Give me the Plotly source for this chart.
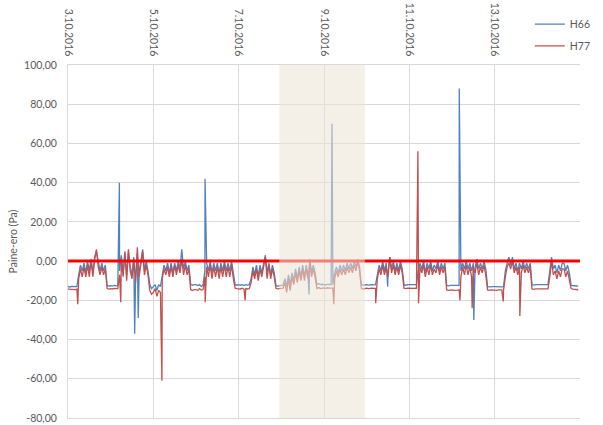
import pandas as pd
import plotly.graph_objects as go

# ---------------- data ----------------
start_time = "2016-10-03 00:00"

# hourly values per day (00:00 ... 23:00)
h66_days = [
    # 3.10
    [-13, -13.2, -12.9, -13, -13.1, -13, -7, -2, -5, -1, -6, 0, -5, 1, -6, 2, 5, -1, -5, -1, -5, -2, -12.5, -12.8],
    # 4.10
    [-12.5, -12.7, -12.4, -12.6, -12.5, -5, 3, -6, 4, -7, 5, -3, -7, 2, -9, 4, -6, 1, 6, -5, 0, -5, -12, -14],
    # 5.10
    [-13, -12, -15, -12, -13, -7, -2, -5, -1, -6, -1, -6, -1, -5, 0, -4, 6, -4, 0, -5, -2, -12, -12.3, -12],
    # 6.10
    [-12, -12.5, -12, -13, -12, -5, -1, -5, 0, -6, -1, -5, -1, -6, -1, -5, 0, -5, -1, -5, 0, -6, -12, -12.3],
    # 7.10
    [-12, -12.3, -12, -12.5, -12, -12.2, -12, -9, -3, -7, -2, -8, -2, -6, -1, 3, -6, -1, -7, -2, -6, -12.5, -12.7, -12.5],
    # 8.10
    [-12.5, -12.3, -9, -13, -7, -12, -6, -10, -4, -9, -3, -8, -2, -8, -2, -7, 1, -6, -2, -6, -12, -11.5, -12, -11.8],
    # 9.10
    [-12, -12.2, -11.8, -12, -12.1, -12, -6, -3, -6, -2, -5, -2, -5, -1, -4, -1, -4, 0, -3, 1, -3, -12, -12.3, -12],
    # 10.10
    [-12, -12.2, -11.9, -12, -12.1, -12, -7, -2, -5, 0, -5, -1, -6, 2, -4, 0, -5, -1, -5, 0, -4, -12, -12.3, -12],
    # 11.10
    [-12, -12.2, -12, -12.1, -12, -5, -1, -4, 0, -6, -1, -4, 0, -5, -2, -4, 0, -5, -1, -4, -1, -12.4, -12.6, -12.4],
    # 12.10
    [-12.4, -12.6, -12.4, -12.5, -12.4, -5, -1, -4, 0, -4, -1, -5, -1, -3, 1, -4, -1, -4, 0, -4, -13, -13.1, -12.9, -13],
    # 13.10
    [-13, -13.1, -12.9, -13, -13.1, -13, -5, -1, 2, -2, 2, -4, -1, -5, -1, -4, 0, -4, -1, -4, -1, -12, -12.2, -12],
    # 14.10
    [-12, -12.2, -11.9, -12, -12.1, -12, -12, -5, 2, -4, -2, -6, -2, -5, -1, -1, -5, -2, -6, -12.4, -12.6, -12.5, -12.7, -12.6],
]

h77_days = [
    # 3.10
    [-14.3, -14.4, -14.2, -14.3, -14.5, -14.3, -9, -4, -8, -3, -8, -2, -8, 0, -8, 1, 6, -3, -7, -3, -7, -4, -14, -14.3],
    # 4.10
    [-14, -14.2, -13.9, -14.1, -14, -7, 1, -8, 5, -10, 6, -5, -9, 1, -11, 7, -8, -1, 5, -7, -2, -7, -15, -17],
    # 5.10
    [-16, -14, -18, -15, -16, -9, -4, -7, -3, -8, -3, -8, -2, -7, -2, -6, 1, -7, -2, -7, -4, -14.5, -15, -14.5],
    # 6.10
    [-14.5, -15, -14, -14.8, -14.5, -8, -3, -8, -2, -9, -3, -8, -3, -9, -3, -8, -2, -8, -3, -8, -2, -9, -13.8, -14],
    # 7.10
    [-14, -14.2, -13.8, -14.3, -14, -14.2, -14, -11, -5, -9, -4, -10, -4, -8, -2, 2, -9, -2, -9, -4, -8, -14, -14.2, -14],
    # 8.10
    [-14, -13.8, -11, -16, -9, -15, -8, -12, -6, -11, -5, -10, -4, -10, -4, -9, 0, -8, -4, -8, -14, -13.5, -14, -13.8],
    # 9.10
    [-13.7, -13.9, -13.6, -13.8, -13.7, -13.8, -9, -5, -8, -4, -7, -4, -7, -3, -6, -3, -6, -2, -5, 0, -5, -14, -14.2, -14],
    # 10.10
    [-13.8, -14, -13.7, -13.8, -13.9, -13.8, -9, -4, -7, -2, -7, -3, -8, 2, -6, -2, -7, -3, -7, -2, -6, -13.8, -14, -13.8],
    # 11.10
    [-13.8, -14, -13.8, -14, -13.9, -7, -3, -6, -2, -8, -3, -7, -2, -7, -4, -6, -2, -7, -3, -6, -3, -14.7, -14.9, -14.7],
    # 12.10
    [-14.7, -14.9, -14.7, -14.8, -14.7, -8, -3, -7, -2, -7, -3, -8, -3, -6, -1, -7, -3, -6, -2, -7, -14.7, -14.9, -14.7, -14.8],
    # 13.10
    [-14.7, -14.9, -14.7, -14.8, -14.7, -14.8, -8, -3, -1, -4, 0, -6, -3, -7, -3, -6, -2, -6, -3, -6, -3, -14.2, -14.4, -14.2],
    # 14.10
    [-14.2, -14.4, -14.1, -14.2, -14.3, -14.2, -14.2, -8, 0, -7, -5, -9, -5, -8, -4, -4, -8, -5, -9, -14, -14.3, -14.5, -14.7, -14.6],
]

# isolated short spikes
h66_spike_times = ["2016-10-04 04:55", "2016-10-04 13:30", "2016-10-04 15:30", "2016-10-06 05:05",
                   "2016-10-08 15:35", "2016-10-09 04:30", "2016-10-10 11:50", "2016-10-12 04:05",
                   "2016-10-12 12:15"]
h66_spike_values = [40, -37, -29, 42, -17, 70, -13, 88, -30]

h77_spike_times = ["2016-10-03 05:30", "2016-10-04 05:40", "2016-10-05 04:50", "2016-10-06 05:10",
                   "2016-10-07 03:40", "2016-10-09 05:30", "2016-10-10 05:05", "2016-10-11 04:50",
                   "2016-10-11 05:10", "2016-10-12 04:30", "2016-10-12 11:20", "2016-10-13 04:50",
                   "2016-10-13 14:10"]
h77_spike_values = [-22, -21, -61, -21, -20, -22, -21.5, 56, -21.5, -20, -24, -20.6, -28]

x_tick_dates = ["2016-10-03", "2016-10-05", "2016-10-07", "2016-10-09", "2016-10-11", "2016-10-13"]
x_tick_labels = ["3.10.2016", "5.10.2016", "7.10.2016", "9.10.2016", "11.10.2016", "13.10.2016"]
y_tick_values = [-80, -60, -40, -20, 0, 20, 40, 60, 80, 100]
y_tick_labels = ["-80,00", "-60,00", "-40,00", "-20,00", "0,00", "20,00", "40,00", "60,00", "80,00", "100,00"]

x_range = ["2016-10-03 00:00", "2016-10-15 00:00"]
y_range = [-80, 100]
shade_start = "2016-10-07 22:50"
shade_end = "2016-10-09 23:00"
reference_level = 0


def build_series(days, spike_times, spike_values):
    flat = [v for day in days for v in day]
    t = pd.date_range(start_time, periods=len(flat), freq="h")
    base = pd.DataFrame({"t": t, "v": flat})
    spikes = pd.DataFrame({"t": pd.to_datetime(spike_times), "v": spike_values})
    df = pd.concat([base, spikes]).sort_values("t", kind="stable")
    return df["t"], df["v"]


t66, v66 = build_series(h66_days, h66_spike_times, h66_spike_values)
t77, v77 = build_series(h77_days, h77_spike_times, h77_spike_values)

FONT = "Lato"
GREY = "#595959"
GRID = "#d9d9d9"

fig = go.Figure()
fig.add_trace(go.Scatter(x=t66, y=v66, mode="lines", name="H66", legend="legend",
                         line=dict(color="#4f81bd", width=1.3)))
fig.add_trace(go.Scatter(x=t77, y=v77, mode="lines", name="H77", legend="legend2",
                         line=dict(color="#c0504d", width=1.3)))

# red reference line at 0
fig.add_shape(type="line", xref="paper", x0=0, x1=1, yref="y", y0=reference_level, y1=reference_level,
              line=dict(color="#ff0000", width=3), layer="above")
# shaded weekend region
fig.add_shape(type="rect", xref="x", x0=shade_start, x1=shade_end, yref="paper", y0=0, y1=1,
              fillcolor="rgb(236,228,212)", opacity=0.55, line=dict(width=0), layer="above")

legend_style = dict(xanchor="left", yanchor="middle", bgcolor="rgba(0,0,0,0)",
                    font=dict(family=FONT, size=10.5, color=GREY), itemwidth=30)

fig.update_layout(
    width=603, height=425,
    margin=dict(l=68, r=19, t=65, b=7),
    paper_bgcolor="white", plot_bgcolor="white",
    font=dict(family=FONT, size=10.5, color=GREY),
    showlegend=True,
    legend=dict(x=0.902, y=1.116, **legend_style),
    legend2=dict(x=0.902, y=1.054, **legend_style),
    xaxis=dict(type="date", range=x_range, side="top", tickmode="array",
               tickvals=x_tick_dates, ticktext=x_tick_labels, tickangle=90,
               showgrid=True, gridcolor=GRID, gridwidth=1, ticks="",
               showline=True, linecolor=GRID, linewidth=1, mirror=True,
               zeroline=False, ticklabelstandoff=4, automargin=False,
               tickfont=dict(family=FONT, size=10.5, color=GREY)),
    yaxis=dict(range=y_range, tickmode="array", tickvals=y_tick_values, ticktext=y_tick_labels,
               showgrid=True, gridcolor=GRID, gridwidth=1, ticks="",
               showline=True, linecolor=GRID, linewidth=1, mirror=False,
               zeroline=False, ticklabelstandoff=8, automargin=False,
               tickfont=dict(family=FONT, size=10.5, color=GREY),
               title=dict(text="Paine-ero (Pa)", standoff=4,
                          font=dict(family=FONT, size=10.5, color=GREY))),
)

fig.write_html("out.html")
